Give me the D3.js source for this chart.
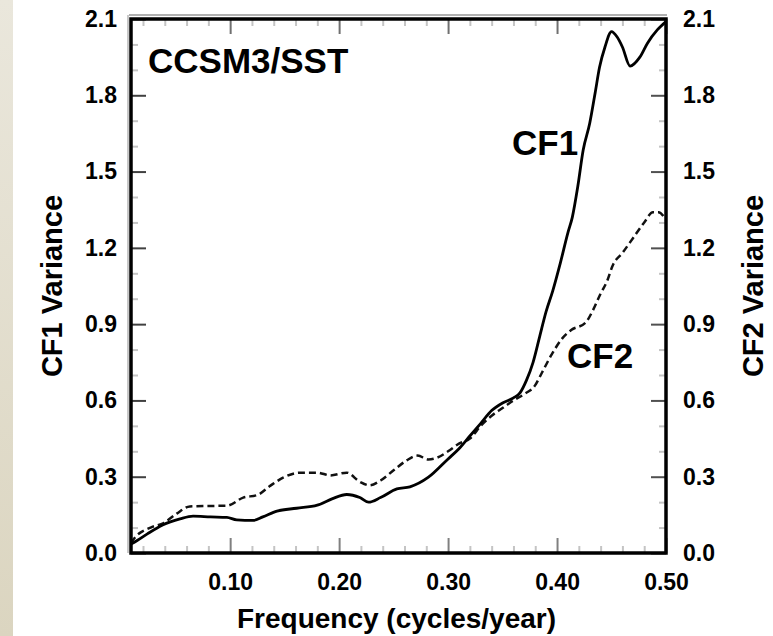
<!DOCTYPE html>
<html>
<head>
<meta charset="utf-8">
<script src="https://cdn.jsdelivr.net/npm/d3@7"></script>
<style>
  html, body { margin: 0; padding: 0; background: #fff; }
  svg { display: block; }
</style>
</head>
<body>
<div id="container"></div>
<script>
// spectra (frequency in cycles/year)
const cf1Freq = [0.009, 0.015, 0.024, 0.038, 0.054, 0.066, 0.082, 0.097, 0.106, 0.121, 0.130, 0.143, 0.161, 0.180, 0.194, 0.207, 0.219, 0.227, 0.238, 0.253, 0.265, 0.282, 0.300, 0.310, 0.320, 0.330, 0.340, 0.350, 0.360, 0.366, 0.372, 0.378, 0.384, 0.390, 0.396, 0.403, 0.410, 0.414, 0.419, 0.424, 0.430, 0.435, 0.439, 0.444, 0.450, 0.455, 0.460, 0.467, 0.476, 0.483, 0.492, 0.500];
const cf1Var = [0.035, 0.05, 0.075, 0.11, 0.134, 0.145, 0.142, 0.140, 0.130, 0.128, 0.142, 0.165, 0.176, 0.188, 0.214, 0.230, 0.218, 0.200, 0.218, 0.252, 0.260, 0.298, 0.37, 0.41, 0.46, 0.51, 0.56, 0.59, 0.61, 0.63, 0.68, 0.75, 0.85, 0.95, 1.03, 1.14, 1.26, 1.32, 1.44, 1.585, 1.69, 1.81, 1.91, 1.99, 2.05, 2.03, 1.99, 1.915, 1.95, 2.005, 2.057, 2.09];

const cf2Freq = [0.009, 0.013, 0.027, 0.039, 0.051, 0.063, 0.082, 0.097, 0.112, 0.125, 0.137, 0.149, 0.164, 0.180, 0.192, 0.207, 0.219, 0.228, 0.238, 0.250, 0.262, 0.272, 0.282, 0.290, 0.300, 0.310, 0.320, 0.330, 0.340, 0.350, 0.360, 0.370, 0.380, 0.386, 0.395, 0.405, 0.413, 0.426, 0.433, 0.440, 0.446, 0.451, 0.460, 0.470, 0.480, 0.488, 0.493, 0.500];
const cf2Var = [0.04, 0.063, 0.10, 0.118, 0.155, 0.183, 0.185, 0.186, 0.218, 0.228, 0.265, 0.297, 0.316, 0.316, 0.305, 0.316, 0.28, 0.266, 0.285, 0.325, 0.364, 0.383, 0.368, 0.375, 0.40, 0.43, 0.45, 0.50, 0.54, 0.57, 0.60, 0.625, 0.66, 0.708, 0.78, 0.845, 0.877, 0.905, 0.955, 1.02, 1.07, 1.13, 1.18, 1.24, 1.30, 1.34, 1.34, 1.31];

const xTicks = [0.1, 0.2, 0.3, 0.4, 0.5];
const xTickLabels = ["0.10", "0.20", "0.30", "0.40", "0.50"];
const yTicks = [0, 0.3, 0.6, 0.9, 1.2, 1.5, 1.8, 2.1];
const yTickLabels = ["0.0", "0.3", "0.6", "0.9", "1.2", "1.5", "1.8", "2.1"];

const w = 773;
const h = 636;
const plot = { x0: 131, x1: 666, y0: 19, y1: 553 };
const font = "'Liberation Sans', Arial, Helvetica, sans-serif";

const xScale = d3.scaleLinear().domain([0.009, 0.5]).range([plot.x0, plot.x1]);
const yScale = d3.scaleLinear().domain([0, 2.1]).range([plot.y1, plot.y0]);

const near = (v, arr) => arr.some(t => Math.abs(t - v) < 1e-6);
const xMinor = d3.range(0.02, 0.499, 0.02).map(v => +v.toFixed(2)).filter(v => !near(v, xTicks));
const yMinor = d3.range(0.1, 2.09, 0.1).map(v => +v.toFixed(1)).filter(v => !near(v, yTicks));

const svg = d3.select("#container")
  .append("svg")
  .attr("width", w)
  .attr("height", h);

// beige strip on the left edge
const grad = svg.append("defs").append("linearGradient")
  .attr("id", "strip").attr("x1", 0).attr("y1", 0).attr("x2", 0).attr("y2", 1);
grad.append("stop").attr("offset", "0%").attr("stop-color", "#eae7dc");
grad.append("stop").attr("offset", "100%").attr("stop-color", "#dbd5c0");
svg.append("rect").attr("x", 0).attr("y", 0).attr("width", 13).attr("height", h).attr("fill", "url(#strip)");

// minor ticks on all four sides
function minorAxis(axis, values, tr) {
  svg.append("g")
    .attr("transform", tr)
    .call(axis.tickValues(values).tickSize(-7).tickFormat(""))
    .call(g => g.select(".domain").remove())
    .call(g => g.selectAll("line").attr("stroke", "#c4c4c4").attr("stroke-width", 2));
}
minorAxis(d3.axisBottom(xScale), xMinor, `translate(0,${plot.y1})`);
minorAxis(d3.axisTop(xScale), xMinor, `translate(0,${plot.y0})`);
minorAxis(d3.axisLeft(yScale), yMinor, `translate(${plot.x0},0)`);
minorAxis(d3.axisRight(yScale), yMinor, `translate(${plot.x1},0)`);

function majorAxis(axis, values, labels, pad, tr, color) {
  const g = svg.append("g")
    .attr("transform", tr)
    .call(axis.tickValues(values).tickSize(-15).tickPadding(pad)
      .tickFormat(labels ? (d, i) => labels[i] : ""))
    .call(g => g.select(".domain").remove());
  g.selectAll("line").attr("stroke", color).attr("stroke-width", 2);
  g.attr("font-family", font).attr("font-size", 23).attr("font-weight", "bold");
  g.selectAll("text").attr("fill", "#000");
  return g;
}
majorAxis(d3.axisBottom(xScale), xTicks, xTickLabels, 21, `translate(0,${plot.y1})`, "#808080");
majorAxis(d3.axisTop(xScale), xTicks, null, 0, `translate(0,${plot.y0})`, "#707070");
majorAxis(d3.axisLeft(yScale), yTicks, yTickLabels, 14, `translate(${plot.x0},0)`, "#404040");
majorAxis(d3.axisRight(yScale), yTicks, yTickLabels, 17, `translate(${plot.x1},0)`, "#505050");

// curves
const line = d3.line()
  .x(d => xScale(d[0]))
  .y(d => yScale(d[1]))
  .curve(d3.curveMonotoneX);

svg.append("clipPath").attr("id", "clip")
  .append("rect")
  .attr("x", plot.x0).attr("y", plot.y0)
  .attr("width", plot.x1 - plot.x0).attr("height", plot.y1 - plot.y0);

svg.append("path")
  .datum(d3.zip(cf2Freq, cf2Var))
  .attr("clip-path", "url(#clip)")
  .attr("d", line)
  .attr("fill", "none")
  .attr("stroke", "#111")
  .attr("stroke-width", 2.5)
  .attr("stroke-dasharray", "7,4");

svg.append("path")
  .datum(d3.zip(cf1Freq, cf1Var))
  .attr("clip-path", "url(#clip)")
  .attr("d", line)
  .attr("fill", "none")
  .attr("stroke", "#000")
  .attr("stroke-width", 2.8);

// frame, with the soft grey edge seen above and left of it
svg.append("line").attr("x1", plot.x0 - 2).attr("x2", plot.x1 + 1)
  .attr("y1", plot.y0 - 4).attr("y2", plot.y0 - 4)
  .attr("stroke", "#b0b0b0").attr("stroke-width", 2);
svg.append("line").attr("x1", plot.x0 - 3).attr("x2", plot.x0 - 3)
  .attr("y1", plot.y0 - 4).attr("y2", plot.y1)
  .attr("stroke", "#c8c8c8").attr("stroke-width", 2);
svg.append("rect")
  .attr("x", plot.x0).attr("y", plot.y0)
  .attr("width", plot.x1 - plot.x0).attr("height", plot.y1 - plot.y0)
  .attr("fill", "none")
  .attr("stroke", "#000")
  .attr("stroke-width", 3.5);

// labels
const label = (x, y, txt, size, extra) => {
  const t = svg.append("text")
    .attr("x", x).attr("y", y)
    .attr("font-family", font)
    .attr("font-size", size)
    .attr("font-weight", "bold")
    .attr("fill", "#000")
    .text(txt);
  if (extra) extra(t);
  return t;
};

label(148, 73, "CCSM3/SST", 35);
label(512, 155, "CF1", 35);
label(567, 368, "CF2", 35);

label((plot.x0 + plot.x1) / 2 - 2, 628, "Frequency (cycles/year)", 28,
  t => t.attr("text-anchor", "middle"));
label(0, 0, "CF1 Variance", 29,
  t => t.attr("text-anchor", "middle").attr("transform", `translate(62,${(plot.y0 + plot.y1) / 2}) rotate(-90)`));
label(0, 0, "CF2 Variance", 29,
  t => t.attr("text-anchor", "middle").attr("transform", `translate(763,${(plot.y0 + plot.y1) / 2}) rotate(-90)`));
</script>
</body>
</html>
